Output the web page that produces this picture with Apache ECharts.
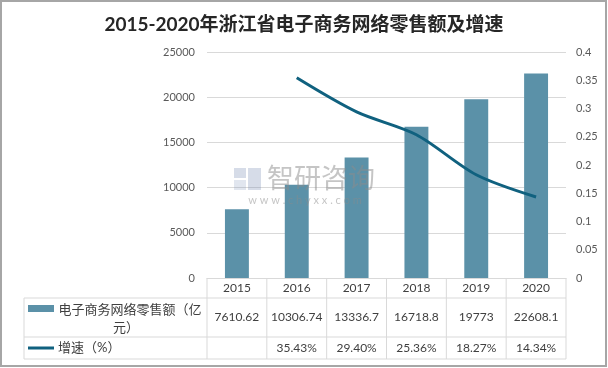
<!DOCTYPE html>
<html><head><meta charset="utf-8">
<script src="https://cdn.jsdelivr.net/npm/echarts@6/dist/echarts.min.js"></script>
<style>html,body{margin:0;padding:0;background:#fff}#c{width:608px;height:368px}</style>
</head><body><div id="c"></div>
<script>
var title = '2015-2020年浙江省电子商务网络零售额及增速';
var years = ['2015','2016','2017','2018','2019','2020'];
var salesName = '电子商务网络零售额（亿元）';
var salesNameLines = ['电子商务网络零售额（亿', '元）'];
var growthName = '增速（%）';
var sales = [7610.62, 10306.74, 13336.7, 16718.8, 19773, 22608.1];
var salesText = ['7610.62','10306.74','13336.7','16718.8','19773','22608.1'];
var growth = [null, 0.3543, 0.2940, 0.2536, 0.1827, 0.1434];
var growthText = ['', '35.43%', '29.40%', '25.36%', '18.27%', '14.34%'];
var leftTicks = [0, 25000, 5000];
var rightTicks = [0, 0.4, 0.05];

var FONT = 'Lato, "Noto Sans CJK SC", sans-serif';
var chart = echarts.init(document.getElementById('c'), null, {renderer: 'canvas'});
var option = {
  animation: false,
  backgroundColor: '#fff',
  title: {text: title, left: 'center', top: 10,
    textStyle: {fontSize: 19, fontWeight: 'bold', color: '#262626', fontFamily: FONT}},
  grid: {left: 207, right: 42, top: 52, bottom: 90},
  xAxis: {type: 'category', data: years,
    axisLine: {show: true, lineStyle: {color: '#d9d9d9'}},
    axisTick: {show: false}, axisLabel: {show: false}},
  yAxis: [
    {type: 'value', min: leftTicks[0], max: leftTicks[1], interval: leftTicks[2],
      axisLine: {show: false}, axisTick: {show: false},
      axisLabel: {color: '#595959', fontSize: 11, margin: 12, fontFamily: FONT,
        formatter: function (v) { return String(v); }},
      splitLine: {lineStyle: {color: '#d9d9d9'}}},
    {type: 'value', min: rightTicks[0], max: rightTicks[1], interval: rightTicks[2],
      axisLine: {show: false}, axisTick: {show: false},
      axisLabel: {color: '#595959', fontSize: 11, margin: 10, fontFamily: FONT,
        formatter: function (v) { return String(+v.toFixed(2)); }},
      splitLine: {show: false}}
  ],
  series: [
    {name: salesName, type: 'bar', data: sales, barWidth: '40%', yAxisIndex: 0,
      itemStyle: {color: '#5b91a8'}},
    {name: growthName, type: 'line', data: growth, yAxisIndex: 1, smooth: 0.3,
      showSymbol: false, symbol: 'none', connectNulls: false,
      lineStyle: {color: '#10617f', width: 3}}
  ]
};
chart.setOption(option);

// Build data table and decorations from the arrays
var g = [];
var lineColor = '#d9d9d9';
var txt = '#404040';
var xs = years.map(function (y) { return chart.convertToPixel({xAxisIndex: 0}, y); });
var step = xs[1] - xs[0];
var x0 = xs[0] - step / 2, x1 = xs[xs.length - 1] + step / 2;
var tLeft = 24, rTop = 278, r1 = 298, r2 = 337, r3 = 359;
function hl(xa, xb, y) { g.push({type: 'line', shape: {x1: xa, y1: y, x2: xb, y2: y}, style: {stroke: lineColor, lineWidth: 1}, silent: true}); }
function vl(x, ya, yb) { g.push({type: 'line', shape: {x1: x, y1: ya, x2: x, y2: yb}, style: {stroke: lineColor, lineWidth: 1}, silent: true}); }
hl(tLeft, x1, r1); hl(tLeft, x1, r2); hl(tLeft, x1, r3);
vl(tLeft, r1, r3);
vl(x0, rTop, r3);
for (var i = 0; i < years.length; i++) vl(x0 + (i + 1) * step, rTop, r3);
function t(x, y, s, size, align) {
  g.push({type: 'text', x: x, y: y, silent: true,
    style: {text: s, fill: txt, font: (size || 12) + 'px ' + FONT, textAlign: align || 'center', textVerticalAlign: 'middle'}});
}
years.forEach(function (y, i) { t(xs[i], (rTop + r1) / 2, y, 12); });
salesText.forEach(function (s, i) { t(xs[i], (r1 + r2) / 2, s, 12); });
growthText.forEach(function (s, i) { if (s) t(xs[i], (r2 + r3) / 2, s, 12); });
// legend keys
g.push({type: 'rect', shape: {x: 28, y: 305, width: 26, height: 7}, style: {fill: '#5b91a8'}, silent: true});
t(130, 310, salesNameLines[0], 13);
t(126, 328, salesNameLines[1], 13);
g.push({type: 'line', shape: {x1: 28, y1: 348, x2: 54, y2: 348}, style: {stroke: '#10617f', lineWidth: 3}, silent: true});
t(58, 348, growthName, 13, 'left');
// watermark (on top, translucent)
var wm = 'rgba(140,140,140,0.5)';
g.push({type: 'rect', z: 100, shape: {x: 234, y: 168, width: 12, height: 10}, style: {fill: 'rgba(120,140,180,0.3)'}, silent: true});
g.push({type: 'rect', z: 100, shape: {x: 248, y: 168, width: 13, height: 22}, style: {fill: 'rgba(120,140,180,0.3)'}, silent: true});
g.push({type: 'rect', z: 100, shape: {x: 234, y: 180, width: 12, height: 10}, style: {fill: 'rgba(120,140,180,0.22)'}, silent: true});
g.push({type: 'text', z: 100, x: 267, y: 178, silent: true,
  style: {text: '智研咨询', fill: wm, font: '27px "Noto Sans CJK SC", sans-serif', textAlign: 'left', textVerticalAlign: 'middle'}});
g.push({type: 'text', z: 100, x: 305, y: 200, silent: true,
  style: {text: 'w w w . c h y x x . c o m', fill: wm, font: '11px ' + FONT, textAlign: 'center', textVerticalAlign: 'middle'}});
// outer border
g.push({type: 'rect', z: 100, shape: {x: 1, y: 1, width: 605, height: 365}, style: {fill: 'none', stroke: '#a6a6a6', lineWidth: 2}, silent: true});
chart.setOption({graphic: g});
</script></body></html>
